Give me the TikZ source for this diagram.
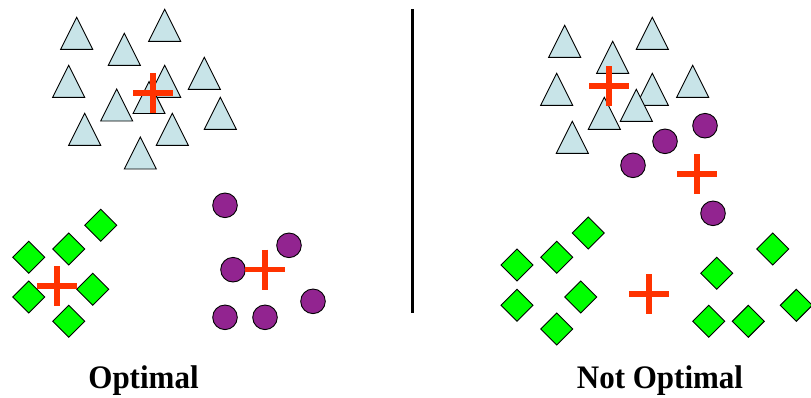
\documentclass[tikz,border=0pt]{standalone}
\usepackage{fontspec}
\setmainfont{Liberation Serif}
\definecolor{triblue}{RGB}{200,228,232}
\definecolor{gemgreen}{RGB}{0,255,0}
\definecolor{plum}{RGB}{146,36,144}
\definecolor{centroid}{RGB}{255,51,0}
\begin{document}
\begin{tikzpicture}[x=1pt,y=-1pt,
  outline/.style={draw=black,line width=0.9pt,line join=miter},
  tri/.pic={\path[outline,fill=triblue] (0,-16) -- (16,16) -- (-16,16) -- cycle;},
  gem/.pic={\path[outline,fill=gemgreen] (0,-16) -- (16,0) -- (0,16) -- (-16,0) -- cycle;},
  dot/.pic={\path[outline,fill=plum] (0,0) circle[radius=12.3];},
  mean/.pic={\draw[centroid,line width=5.6pt] (-20,0) -- (20,0) (0,-20) -- (0,20);},
  caption/.style={font=\bfseries\fontsize{31}{31}\selectfont,anchor=base,inner sep=0pt,yscale=1.06}]
\useasboundingbox (0,0) rectangle (811,397);

% ---- left panel: well separated clusters ----
\foreach \x/\y in {76.7/33.3,164.7/25.3,124.3/49.3,68.7/81.3,164.7/81.3,204.3/73.3,
                   116.7/105,149/97.5,220.3/113.3,84.7/129.3,172.3/129.3,140.3/153}
  \pic at (\x,\y) {tri};
\pic at (153,93) {mean};

\foreach \x/\y in {100.7/225.3,68.7/249,28.7/257.3,28.7/297,92.7/289.3,68.7/321.3}
  \pic at (\x,\y) {gem};
\pic at (57,286) {mean};

\foreach \x/\y in {225/205.3,289/245.3,233/269.7,313/301.3,225/317.3,265/317.3}
  \pic at (\x,\y) {dot};
\pic at (265,269.5) {mean};

% ---- divider ----
\coordinate (top) at (412.3,9);
\coordinate (bottom) at (412.3,313);
\draw[line width=3pt] (top) -- (bottom);

% ---- right panel: poorly placed centres ----
\foreach \x/\y in {564.7/41.3,652.3/33.3,612.7/57.3,556.7/89.3,652.3/89.3,692.7/81.3,
                   604.3/113.3,636.3/105.3,572.3/137.3}
  \pic at (\x,\y) {tri};
\pic at (609,86) {mean};

\foreach \x/\y in {705/125.7,665/141.3,633/165.3,713/213.3}
  \pic at (\x,\y) {dot};
\pic at (697,174) {mean};

\foreach \x/\y in {588.3/233,556.7/257.3,517/265,517/305.3,580.7/297,556.7/329,
                   772.7/249,716.7/273.3,708.7/321.3,748.3/321.3,796.3/305.3}
  \pic at (\x,\y) {gem};
\pic at (649,294) {mean};

% ---- captions ----
\node[caption] (good) at (143.5,388.5) {Optimal};
\node[caption] (bad) at (660,388.5) {Not Optimal};
\end{tikzpicture}
\end{document}
